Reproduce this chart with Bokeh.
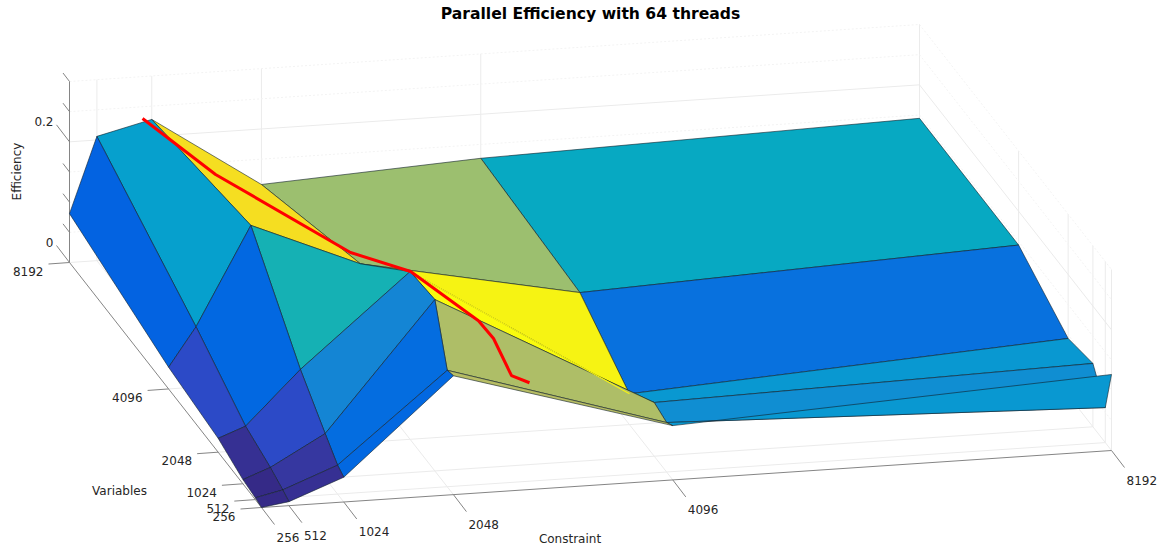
import math
from bokeh.plotting import figure
from bokeh.models import Range1d, ColumnDataSource
from bokeh.core.properties import value
from bokeh.embed import file_html
from bokeh.resources import INLINE

constraint = [256, 512, 1024, 2048, 4096, 8192]
variables = [256, 512, 1024, 2048, 4096, 8192]
eff_v256 = [0.000, 0.0066, 0.041, 0.197, 0.090, 0.126]
eff_v512 = [0.003, 0.013, 0.048, 0.193, 0.082, 0.058]
eff_v1024 = [0.007, 0.024, 0.074, 0.284, 0.089, 0.105]
eff_v2048 = [0.023, 0.040, 0.128, 0.278, 0.051, 0.094]
eff_v4096 = [0.036, 0.100, 0.262, 0.186, 0.114, 0.144]
eff_v8192 = [0.081, 0.206, 0.228, 0.108, 0.127, 0.1445]
efficiency = [eff_v256, eff_v512, eff_v1024, eff_v2048, eff_v4096, eff_v8192]

path_constraint = [938, 1157, 1954, 2053, 2455, 2538, 2648, 2758]
path_variables = [8192, 6144, 4096, 2048, 1024, 768, 512, 256]
path_efficiency = [0.2306, 0.240, 0.206, 0.278, 0.244, 0.2267, 0.177, 0.177]

z_ticks = [0, 0.05, 0.1, 0.15, 0.2, 0.25, 0.3]
z_labels = {0: "0", 0.2: "0.2"}

PARULA = """0.2081 0.1663 0.5292
0.2116 0.1898 0.5777
0.2123 0.2138 0.6270
0.2081 0.2386 0.6771
0.1959 0.2645 0.7279
0.1707 0.2919 0.7792
0.1253 0.3242 0.8303
0.0591 0.3598 0.8683
0.0117 0.3875 0.8820
0.0060 0.4086 0.8828
0.0165 0.4266 0.8786
0.0329 0.4430 0.8720
0.0498 0.4586 0.8641
0.0629 0.4737 0.8554
0.0723 0.4887 0.8467
0.0779 0.5040 0.8384
0.0793 0.5200 0.8312
0.0749 0.5375 0.8263
0.0641 0.5570 0.8240
0.0488 0.5772 0.8228
0.0343 0.5966 0.8199
0.0265 0.6137 0.8135
0.0239 0.6287 0.8038
0.0231 0.6418 0.7913
0.0228 0.6535 0.7768
0.0267 0.6642 0.7607
0.0384 0.6743 0.7436
0.0590 0.6838 0.7254
0.0843 0.6928 0.7062
0.1133 0.7015 0.6859
0.1453 0.7098 0.6646
0.1801 0.7177 0.6424
0.2178 0.7250 0.6193
0.2586 0.7317 0.5954
0.3022 0.7376 0.5712
0.3482 0.7424 0.5473
0.3953 0.7459 0.5244
0.4420 0.7481 0.5033
0.4871 0.7491 0.4840
0.5300 0.7491 0.4661
0.5709 0.7485 0.4494
0.6099 0.7473 0.4337
0.6473 0.7456 0.4188
0.6834 0.7435 0.4044
0.7184 0.7411 0.3905
0.7525 0.7384 0.3768
0.7858 0.7356 0.3633
0.8185 0.7327 0.3498
0.8507 0.7299 0.3360
0.8824 0.7274 0.3217
0.9139 0.7258 0.3063
0.9450 0.7261 0.2886
0.9739 0.7314 0.2666
0.9938 0.7455 0.2403
0.9990 0.7653 0.2164
0.9955 0.7861 0.1967
0.9880 0.8066 0.1794
0.9789 0.8271 0.1633
0.9697 0.8481 0.1475
0.9626 0.8705 0.1309
0.9589 0.8949 0.1132
0.9598 0.9218 0.0948
0.9661 0.9514 0.0755
0.9763 0.9831 0.0538"""
cmap = []
for row in PARULA.splitlines():
    r, g, b = [int(round(float(v) * 255)) for v in row.split()]
    cmap.append(f"#{r:02x}{g:02x}{b:02x}")

# orthographic view of the 3-D box, in page pixels
ORIGIN = (261.0, 507.0)
EX = (850.0, -57.0)
EY = (-192.0, -245.0)
EZ_PX = 181.0
AX_MIN, AX_MAX, Z_MAX = 256.0, 8192.0, 0.3


def project(x, y, z=0.0):
    tx = (x - AX_MIN) / (AX_MAX - AX_MIN)
    ty = (y - AX_MIN) / (AX_MAX - AX_MIN)
    return (ORIGIN[0] + EX[0] * tx + EY[0] * ty,
            ORIGIN[1] + EX[1] * tx + EY[1] * ty - EZ_PX * z / Z_MAX)


p = figure(width=1164, height=548, output_backend="svg", toolbar_location=None,
           x_range=Range1d(0, 1164), y_range=Range1d(548, 0),
           x_axis_location=None, y_axis_location=None,
           min_border=0, outline_line_color=None, tools="")
p.grid.visible = False

GRID = "#ebebeb"
FAINT = "#f3f3f3"


def seg(a, b, color=GRID, width=1.0, dash="solid"):
    p.line([a[0], b[0]], [a[1], b[1]], line_color=color, line_width=width, line_dash=dash)


# floor grid
for c in constraint[1:]:
    seg(project(c, AX_MIN), project(c, AX_MAX))
for v in variables[1:]:
    seg(project(AX_MIN, v), project(AX_MAX, v))
# back wall and side wall grid
for c in constraint[1:]:
    seg(project(c, AX_MAX, 0), project(c, AX_MAX, Z_MAX))
for v in variables[:-1]:
    seg(project(AX_MAX, v, 0), project(AX_MAX, v, Z_MAX))
seg(project(AX_MAX, AX_MAX, 0), project(AX_MAX, AX_MAX, Z_MAX))
for z in z_ticks[1:]:
    major = z in z_labels
    col, dash = (GRID, "solid") if major else (FAINT, "2 2")
    seg(project(AX_MIN, AX_MAX, z), project(AX_MAX, AX_MAX, z), col, 1.0, dash)
    seg(project(AX_MAX, AX_MAX, z), project(AX_MAX, AX_MIN, z), col, 1.0, dash)

# axes and ticks
AXIS = "#858585"
seg(project(AX_MIN, AX_MIN), project(AX_MAX, AX_MIN), AXIS, 1.0)
seg(project(AX_MIN, AX_MIN), project(AX_MIN, AX_MAX), AXIS, 1.0)
seg(project(AX_MIN, AX_MAX, 0), project(AX_MIN, AX_MAX, Z_MAX), AXIS, 1.0)

cx, cy, ct = [], [], []
vx, vy, vt = [], [], []
for c in constraint:
    a = project(c, AX_MIN)
    seg(a, (a[0] + 13, a[1] + 17), AXIS, 1.0)
    cx.append(a[0] + 15); cy.append(a[1] + 29.5); ct.append(str(c))
for v in variables:
    a = project(AX_MIN, v)
    seg(a, (a[0] - 21, a[1] + 1.5), AXIS, 1.0)
    vx.append(a[0] - 26); vy.append(a[1] + 8.5); vt.append(str(v))
for z in z_ticks:
    a = project(AX_MIN, AX_MAX, z)
    k = 1.0 if z in z_labels else 0.5
    seg(a, (a[0] - 13 * k, a[1] - 17 * k), AXIS, 1.0)

# surface, far quads first, colour from each quad's low corner
xs, ys, fills = [], [], []
c_max = max(max(r) for r in efficiency)
c_min = min(min(r) for r in efficiency)


def shade(j, i):
    return cmap[min(63, int((efficiency[j][i] - c_min) / (c_max - c_min) * 64))]


for j in range(len(variables) - 2, -1, -1):
    for i in range(len(constraint) - 2, -1, -1):
        corners = [(i, j), (i + 1, j), (i + 1, j + 1), (i, j + 1)]
        pts = [project(constraint[a], variables[b], efficiency[b][a]) for a, b in corners]
        xs.append([q[0] for q in pts])
        ys.append([q[1] for q in pts])
        fills.append(shade(j, i))
p.patches("xs", "ys", fill_color="fills", line_color="#10202a", line_width=0.6,
          source=ColumnDataSource(dict(xs=xs, ys=ys, fills=fills)))

# the fold between the two brightest quads shows no dark edge
seg(project(constraint[3], variables[3], efficiency[3][3]),
    project(constraint[4], variables[3], efficiency[3][4]), shade(3, 3), 1.2)

# red path
rp = [project(a, b, c) for a, b, c in zip(path_constraint, path_variables, path_efficiency)]
p.line([q[0] for q in rp], [q[1] for q in rp], line_color="#ff0000", line_width=3)

TXT = "#262626"
FONT = value("DejaVu Sans")
p.text(cx, cy, text=ct, text_font=FONT, text_font_size="12px", text_color=TXT,
       text_align="left", text_baseline="middle")
p.text(vx, vy, text=vt, text_font=FONT, text_font_size="12px", text_color=TXT,
       text_align="right", text_baseline="middle")
for z, t in z_labels.items():
    a = project(AX_MIN, AX_MAX, z)
    p.text([a[0] - 16], [a[1] - 20.5], text=[t], text_font=FONT, text_font_size="12px",
           text_color=TXT, text_align="right", text_baseline="middle")
p.text([590], [13], text=["Parallel Efficiency with 64 threads"], text_font=FONT,
       text_font_size="15.6px", text_font_style="bold", text_color="#000000",
       text_align="center", text_baseline="middle")
p.text([569.5], [538], text=["Constraint"], text_font=FONT, text_font_size="12px", text_color=TXT,
       text_align="center", text_baseline="middle")
p.text([119], [490], text=["Variables"], text_font=FONT, text_font_size="12px", text_color=TXT,
       text_align="center", text_baseline="middle")
p.text([16], [171], text=["Efficiency"], text_font=FONT, text_font_size="12px", text_color=TXT,
       text_align="center", text_baseline="middle", angle=math.pi / 2)

open("out.html", "w").write(file_html(p, INLINE))
